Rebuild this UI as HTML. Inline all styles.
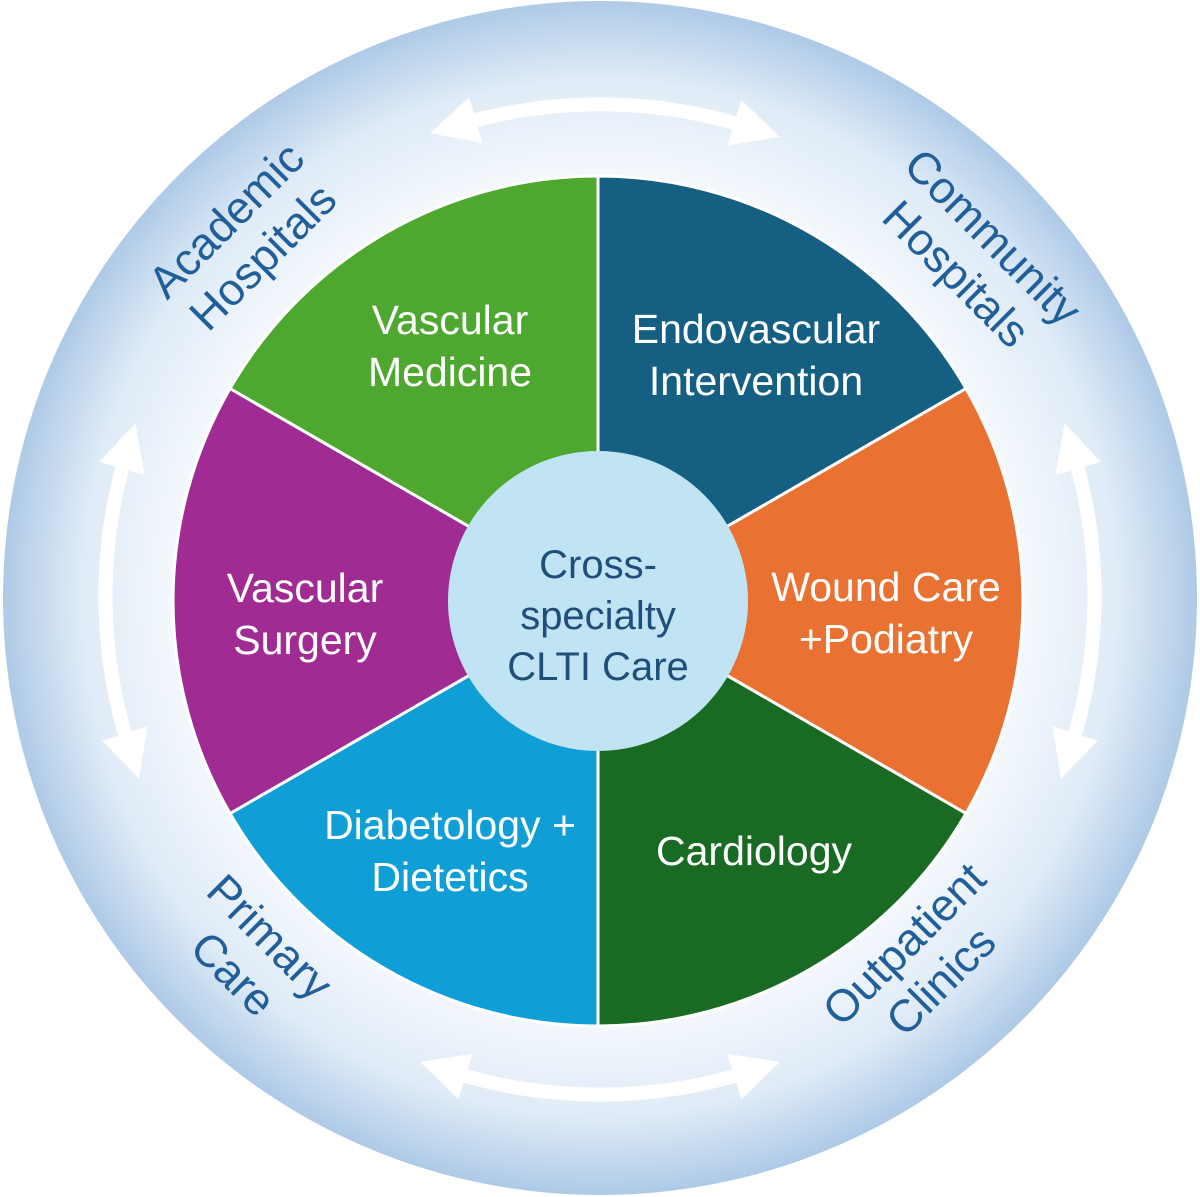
<!DOCTYPE html>
<html><head><meta charset="utf-8"><style>
html,body{margin:0;padding:0;background:#fff;}
svg{display:block;font-family:"Liberation Sans",sans-serif;}
</style></head><body>
<svg width="1200" height="1197" viewBox="0 0 1200 1197" xmlns="http://www.w3.org/2000/svg">
<defs>
<radialGradient id="rg" cx="600" cy="598" r="597" gradientUnits="userSpaceOnUse">
<stop offset="0.7" stop-color="#f5f9fd"/>
<stop offset="0.87" stop-color="#dfebf7"/>
<stop offset="1" stop-color="#aecae7"/>
</radialGradient>
<marker id="ah" viewBox="0 0 10 10" refX="3" refY="5" markerWidth="3.4" markerHeight="3.4" orient="auto-start-reverse" markerUnits="strokeWidth">
<path d="M0,0 L10,5 L0,10 Z" fill="#fff"/>
</marker>
</defs>
<circle cx="600" cy="598" r="597" fill="url(#rg)"/>
<g fill="none" stroke="#fff" stroke-width="14" marker-start="url(#ah)" marker-end="url(#ah)">
<path d="M462,124 A495,495 0 0 1 748,127"/>
<path d="M126,455 A495,495 0 0 0 129,747"/>
<path d="M1074,455 A495,495 0 0 1 1071,747"/>
<path d="M452,1072 A495,495 0 0 0 748,1072"/>
</g>
<g stroke="#fff" stroke-width="3">
<path d="M598,601 L598,176 A425,425 0 0 1 966,388.5 Z" fill="#155f82"/>
<path d="M598,601 L966,388.5 A425,425 0 0 1 966,813.5 Z" fill="#e97132"/>
<path d="M598,601 L966,813.5 A425,425 0 0 1 598,1026 Z" fill="#196b24"/>
<path d="M598,601 L598,1026 A425,425 0 0 1 230,813.5 Z" fill="#0f9ed5"/>
<path d="M598,601 L230,813.5 A425,425 0 0 1 230,388.5 Z" fill="#a02b93"/>
<path d="M598,601 L230,388.5 A425,425 0 0 1 598,176 Z" fill="#4ea72e"/>
</g>
<circle cx="598" cy="601" r="150" fill="#c1e4f5"/>
<g fill="#fff" font-size="41" text-anchor="middle">
<text x="450" y="334">Vascular</text><text x="450" y="386">Medicine</text>
<text x="756" y="343">Endovascular</text><text x="756" y="395">Intervention</text>
<text x="305" y="602">Vascular</text><text x="305" y="654">Surgery</text>
<text x="886" y="601">Wound Care</text><text x="886" y="653">+Podiatry</text>
<text x="450" y="839">Diabetology +</text><text x="450" y="891">Dietetics</text>
<text x="754" y="865">Cardiology</text>
</g>
<g fill="#1f4e79" font-size="40" text-anchor="middle">
<text x="598" y="578">Cross-</text><text x="598" y="629">specialty</text><text x="598" y="680">CLTI Care</text>
</g>
<g fill="#215f9a" font-size="45" text-anchor="middle">
<g transform="translate(244,238) rotate(-45)"><text x="0" y="-10">Academic</text><text x="0" y="42">Hospitals</text></g>
<g transform="translate(975,255) rotate(45)"><text x="0" y="-10">Community</text><text x="0" y="42">Hospitals</text></g>
<g transform="translate(252,955) rotate(45)"><text x="0" y="-10">Primary</text><text x="0" y="42">Care</text></g>
<g transform="translate(922,962) rotate(-45)"><text x="0" y="-10">Outpatient</text><text x="0" y="42">Clinics</text></g>
</g>
</svg>
</body></html>
